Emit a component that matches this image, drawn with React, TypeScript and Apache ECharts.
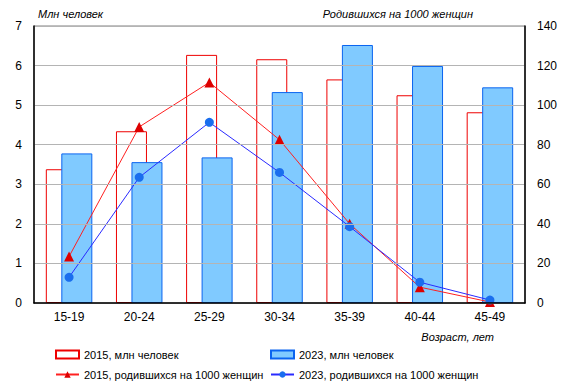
import React, { useEffect, useRef } from "react";
import * as echarts from "echarts";

const categories = ["15-19", "20-24", "25-29", "30-34", "35-39", "40-44", "45-49"];
const pop2015 = [3.38, 4.34, 6.27, 6.16, 5.65, 5.25, 4.82];
const pop2023 = [3.78, 3.56, 3.68, 5.33, 6.52, 5.99, 5.45];
const birth2015 = [23.5, 89, 111.5, 82.5, 40, 8, 0.5];
const birth2023 = [13, 63.5, 91.3, 66, 38.6, 10.5, 1.5];
const leftTicks = [0, 1, 2, 3, 4, 5, 6, 7];
const rightTicks = [0, 20, 40, 60, 80, 100, 120, 140];

const FONT = "Liberation Sans, Arial, sans-serif";

export default function App() {
  const ref = useRef<HTMLDivElement>(null);
  useEffect(() => {
    if (!ref.current) return;
    const chart = echarts.init(ref.current, undefined, { renderer: "svg" });
    const legendText = { fontFamily: FONT, fontSize: 11, color: "#000" };
    const legendBase = { itemWidth: 23, itemHeight: 8, itemGap: 4, textStyle: legendText, padding: 0 };
    chart.setOption({
      animation: false,
      textStyle: { fontFamily: FONT },
      grid: { left: 34, right: 47, top: 26, bottom: 88, show: true, borderColor: "#808080", borderWidth: 1 },
      legend: [
        { ...legendBase, left: 55, top: 349, data: [{ name: "2015, млн человек", icon: "rect" }] },
        { ...legendBase, left: 270, top: 349, data: [{ name: "2023, млн человек", icon: "rect" }] },
        { ...legendBase, left: 55, top: 369, data: ["2015, родившихся на 1000 женщин"] },
        { ...legendBase, left: 270, top: 369, data: ["2023, родившихся на 1000 женщин"] },
      ],
      graphic: [
        { type: "text", left: 38, top: 8, style: { text: "Млн человек", font: `italic 11px ${FONT}`, fill: "#000" } },
        { type: "text", right: 99, top: 8, style: { text: "Родившихся на 1000 женщин", font: `italic 11px ${FONT}`, fill: "#000" } },
        { type: "text", right: 78, top: 331, style: { text: "Возраст, лет", font: `italic 11px ${FONT}`, fill: "#000" } },
      ],
      xAxis: {
        type: "category",
        data: categories,
        z: 10,
        axisLine: { lineStyle: { color: "#000", width: 1.5 } },
        axisTick: { show: false },
        axisLabel: { color: "#000", fontSize: 12, fontFamily: FONT, margin: 8 },
      },
      yAxis: [
        {
          type: "value",
          min: leftTicks[0],
          max: leftTicks[leftTicks.length - 1],
          interval: 1,
          z: 10,
          axisLine: { show: true, lineStyle: { color: "#000", width: 1.5 } },
          axisTick: { show: false },
          axisLabel: { color: "#000", fontSize: 12, fontFamily: FONT, margin: 12 },
          splitLine: { lineStyle: { color: "#b4b4b4", width: 1 } },
        },
        {
          type: "value",
          min: rightTicks[0],
          max: rightTicks[rightTicks.length - 1],
          interval: 20,
          z: 10,
          axisLine: { show: true, lineStyle: { color: "#000", width: 1.5 } },
          axisTick: { show: false },
          axisLabel: { color: "#000", fontSize: 12, fontFamily: FONT, margin: 12 },
          splitLine: { show: false },
        },
      ],
      series: [
        {
          name: "2015, млн человек",
          type: "bar",
          data: pop2015,
          barWidth: 31,
          barGap: "-50%",
          itemStyle: { color: "#ffffff", borderColor: "#ee0000", borderWidth: 1, borderRadius: 0 },
          z: 2,
        },
        {
          name: "2023, млн человек",
          type: "bar",
          data: pop2023,
          barWidth: 31,
          itemStyle: { color: "#80caff", borderColor: "#0a64f0", borderWidth: 1, borderRadius: 0 },
          z: 3,
        },
        {
          name: "2015, родившихся на 1000 женщин",
          type: "line",
          yAxisIndex: 1,
          data: birth2015,
          symbol: "triangle",
          symbolSize: 10,
          lineStyle: { color: "#ff2020", width: 1 },
          itemStyle: { color: "#dd0000" },
          z: 4,
        },
        {
          name: "2023, родившихся на 1000 женщин",
          type: "line",
          yAxisIndex: 1,
          data: birth2023,
          symbol: "circle",
          symbolSize: 9,
          lineStyle: { color: "#2a2aff", width: 1 },
          itemStyle: { color: "#1a6eee" },
          z: 5,
        },
      ],
    });
    return () => chart.dispose();
  }, []);
  return (
    <div style={{ position: "fixed", left: 0, top: 0, width: 572, height: 391, background: "#fff" }}>
      <div ref={ref} style={{ width: 572, height: 391 }} />
    </div>
  );
}
